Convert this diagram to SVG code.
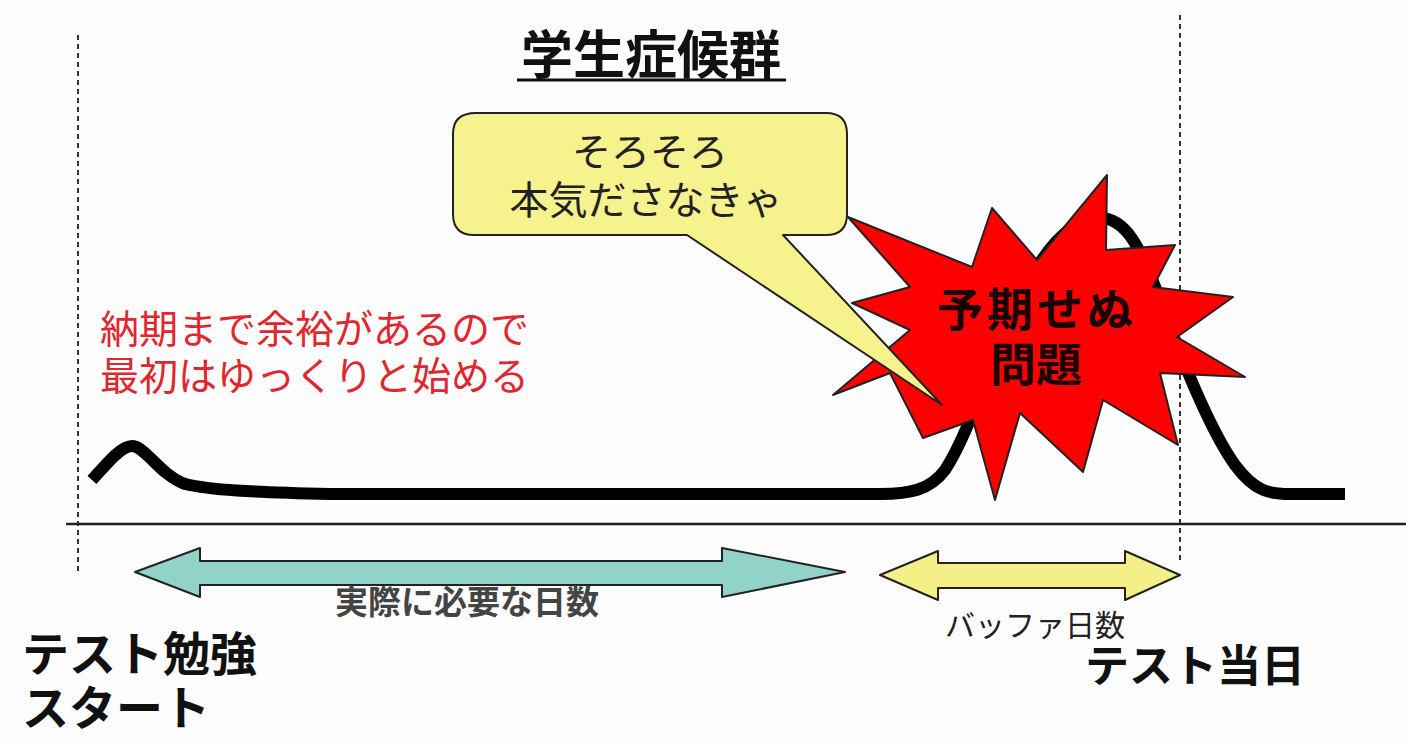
<svg xmlns="http://www.w3.org/2000/svg" width="1406" height="744" viewBox="0 0 1406 744">
  <style>
    .jp { font-family: "Liberation Sans", "Noto Sans CJK JP", sans-serif; }
    .bold { font-weight: bold; }
    .guide { stroke: #333; stroke-width: 2; stroke-dasharray: 5 4; fill: none; }
    .axis { stroke: #222; stroke-width: 2.5; }
    .curve { stroke: #000; stroke-width: 12; fill: none; stroke-linejoin: round; }
    .outline { stroke: #222; stroke-width: 2; stroke-linejoin: round; }
  </style>
  <rect width="1406" height="744" fill="#fdfdfd"/>

  <!-- guides and axis -->
  <g id="guides">
    <line class="guide" x1="78" y1="35" x2="78" y2="575"/>
    <line class="guide" x1="1180" y1="15" x2="1180" y2="560"/>
    <line class="axis" x1="66" y1="524" x2="1406" y2="524"/>
  </g>

  <!-- effort curve -->
  <g id="curve">
    <path class="curve" d="M92,480 C110,460 122,446 132,446 C145,446 160,475 185,484 C210,490 250,492 330,494 L880,494 C910,494 930,490 945,470 C965,440 985,380 1010,320 C1040,250 1070,218 1100,218 C1125,218 1140,245 1160,300 C1180,355 1210,430 1235,465 C1255,492 1270,494 1290,494 L1345,494"/>
  </g>

  <!-- title -->
  <g id="title">
    <text class="jp bold" x="651" y="74" font-size="52" text-anchor="middle" fill="#111">学生症候群</text>
    <line x1="517" y1="80" x2="786" y2="80" stroke="#111" stroke-width="3"/>
  </g>

  <!-- explanation -->
  <g id="note">
    <text class="jp" x="100" y="343" font-size="39" fill="#e0262e">納期まで余裕があるので</text>
    <text class="jp" x="100" y="390" font-size="39" fill="#e0262e">最初はゆっくりと始める</text>
  </g>

  <!-- burst -->
  <g id="burst">
    <polygon class="outline" fill="#ff0000" stroke="#5a0000" points="1107,175 1106,250 1175,245 1153,287 1233,297 1177,337 1245,377 1160,373 1178,445 1103,400 1083,472 1020,413 995,500 973,420 923,438 890,373 833,395 910,330 852,303 910,287 848,217 972,267 992,208 1037,260"/>
    <text class="jp bold" x="1037" y="326" font-size="46" letter-spacing="4" text-anchor="middle" fill="#1a0000">予期せぬ</text>
    <text class="jp bold" x="1036" y="381" font-size="46" text-anchor="middle" fill="#1a0000">問題</text>
  </g>

  <!-- speech bubble -->
  <g id="bubble">
    <path class="outline" fill="#f6f28e" d="M476,113 L826,113 Q847,113 847,134 L847,214 Q847,235 826,235 L783,235 L942,405 L687,235 L474,235 Q453,235 453,214 L453,134 Q453,113 476,113 Z"/>
    <text class="jp" x="650" y="166" font-size="39" text-anchor="middle" fill="#222">そろそろ</text>
    <text class="jp" x="646" y="214" font-size="39" text-anchor="middle" fill="#222">本気ださなきゃ</text>
  </g>

  <!-- span arrows -->
  <g id="span-required">
    <polygon class="outline" fill="#92d3c9" points="135,572 200,548 200,561 722,561 722,548 845,572 722,597 722,585 200,585 200,597"/>
    <text class="jp bold" x="467" y="614" font-size="33" text-anchor="middle" fill="#444">実際に必要な日数</text>
  </g>
  <g id="span-buffer">
    <polygon class="outline" fill="#f4ef86" points="880,575 938,551 938,563 1125,563 1125,551 1180,575 1125,600 1125,588 938,588 938,600"/>
    <text class="jp" x="1035" y="636" font-size="30" text-anchor="middle" fill="#222">バッファ日数</text>
  </g>

  <!-- time labels -->
  <g id="start-label">
    <text class="jp bold" x="22" y="671" font-size="47" fill="#111">テスト勉強</text>
    <text class="jp bold" x="22" y="725" font-size="47" fill="#111">スタート</text>
  </g>
  <g id="test-day-label">
    <text class="jp bold" x="1085" y="682" font-size="44" fill="#111">テスト当日</text>
  </g>
</svg>
